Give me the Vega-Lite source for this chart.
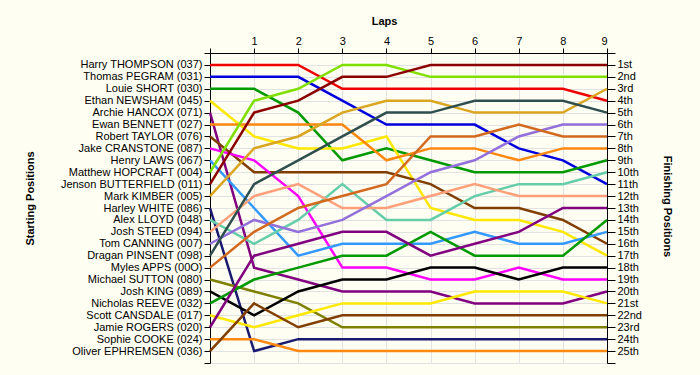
{
  "$schema": "https://vega.github.io/schema/vega-lite/v6.json",
  "width": 397,
  "height": 310,
  "autosize": "none",
  "padding": {"left": 210, "top": 53, "right": 93, "bottom": 12},
  "background": "#FFFEF2",
  "view": {"stroke": null},
  "config": {
    "font": "Liberation Sans",
    "axis": {
      "domainColor": "#000000",
      "tickColor": "#000000",
      "labelColor": "#000000",
      "titleColor": "#000000",
      "labelFontSize": 11,
      "titleFontSize": 11,
      "titleFontWeight": "bold",
      "labelFont": "Liberation Sans",
      "titleFont": "Liberation Sans",
      "gridColor": "#E2E2E2",
      "gridWidth": 1
    }
  },
  "datasets": {
    "race": [
      {"rider": "Harry THOMPSON (037)", "lap": 0, "pos": 1}, {"rider": "Harry THOMPSON (037)", "lap": 1, "pos": 1}, {"rider": "Harry THOMPSON (037)", "lap": 2, "pos": 1}, {"rider": "Harry THOMPSON (037)", "lap": 3, "pos": 3}, {"rider": "Harry THOMPSON (037)", "lap": 4, "pos": 3}, {"rider": "Harry THOMPSON (037)", "lap": 5, "pos": 3}, {"rider": "Harry THOMPSON (037)", "lap": 6, "pos": 3}, {"rider": "Harry THOMPSON (037)", "lap": 7, "pos": 3}, {"rider": "Harry THOMPSON (037)", "lap": 8, "pos": 3}, {"rider": "Harry THOMPSON (037)", "lap": 9, "pos": 4},
      {"rider": "Thomas PEGRAM (031)", "lap": 0, "pos": 2}, {"rider": "Thomas PEGRAM (031)", "lap": 1, "pos": 2}, {"rider": "Thomas PEGRAM (031)", "lap": 2, "pos": 2}, {"rider": "Thomas PEGRAM (031)", "lap": 3, "pos": 4}, {"rider": "Thomas PEGRAM (031)", "lap": 4, "pos": 6}, {"rider": "Thomas PEGRAM (031)", "lap": 5, "pos": 6}, {"rider": "Thomas PEGRAM (031)", "lap": 6, "pos": 6}, {"rider": "Thomas PEGRAM (031)", "lap": 7, "pos": 8}, {"rider": "Thomas PEGRAM (031)", "lap": 8, "pos": 9}, {"rider": "Thomas PEGRAM (031)", "lap": 9, "pos": 11},
      {"rider": "Louie SHORT (030)", "lap": 0, "pos": 3}, {"rider": "Louie SHORT (030)", "lap": 1, "pos": 3}, {"rider": "Louie SHORT (030)", "lap": 2, "pos": 5}, {"rider": "Louie SHORT (030)", "lap": 3, "pos": 9}, {"rider": "Louie SHORT (030)", "lap": 4, "pos": 8}, {"rider": "Louie SHORT (030)", "lap": 5, "pos": 9}, {"rider": "Louie SHORT (030)", "lap": 6, "pos": 10}, {"rider": "Louie SHORT (030)", "lap": 7, "pos": 10}, {"rider": "Louie SHORT (030)", "lap": 8, "pos": 10}, {"rider": "Louie SHORT (030)", "lap": 9, "pos": 9},
      {"rider": "Ethan NEWSHAM (045)", "lap": 0, "pos": 4}, {"rider": "Ethan NEWSHAM (045)", "lap": 1, "pos": 7}, {"rider": "Ethan NEWSHAM (045)", "lap": 2, "pos": 8}, {"rider": "Ethan NEWSHAM (045)", "lap": 3, "pos": 8}, {"rider": "Ethan NEWSHAM (045)", "lap": 4, "pos": 7}, {"rider": "Ethan NEWSHAM (045)", "lap": 5, "pos": 13}, {"rider": "Ethan NEWSHAM (045)", "lap": 6, "pos": 14}, {"rider": "Ethan NEWSHAM (045)", "lap": 7, "pos": 14}, {"rider": "Ethan NEWSHAM (045)", "lap": 8, "pos": 15}, {"rider": "Ethan NEWSHAM (045)", "lap": 9, "pos": 17},
      {"rider": "Archie HANCOX (071)", "lap": 0, "pos": 5}, {"rider": "Archie HANCOX (071)", "lap": 1, "pos": 18}, {"rider": "Archie HANCOX (071)", "lap": 2, "pos": 19}, {"rider": "Archie HANCOX (071)", "lap": 3, "pos": 20}, {"rider": "Archie HANCOX (071)", "lap": 4, "pos": 20}, {"rider": "Archie HANCOX (071)", "lap": 5, "pos": 20}, {"rider": "Archie HANCOX (071)", "lap": 6, "pos": 21}, {"rider": "Archie HANCOX (071)", "lap": 7, "pos": 21}, {"rider": "Archie HANCOX (071)", "lap": 8, "pos": 21}, {"rider": "Archie HANCOX (071)", "lap": 9, "pos": 20},
      {"rider": "Ewan BENNETT (027)", "lap": 0, "pos": 6}, {"rider": "Ewan BENNETT (027)", "lap": 1, "pos": 6}, {"rider": "Ewan BENNETT (027)", "lap": 2, "pos": 6}, {"rider": "Ewan BENNETT (027)", "lap": 3, "pos": 6}, {"rider": "Ewan BENNETT (027)", "lap": 4, "pos": 9}, {"rider": "Ewan BENNETT (027)", "lap": 5, "pos": 8}, {"rider": "Ewan BENNETT (027)", "lap": 6, "pos": 8}, {"rider": "Ewan BENNETT (027)", "lap": 7, "pos": 9}, {"rider": "Ewan BENNETT (027)", "lap": 8, "pos": 8}, {"rider": "Ewan BENNETT (027)", "lap": 9, "pos": 8},
      {"rider": "Robert TAYLOR (076)", "lap": 0, "pos": 7}, {"rider": "Robert TAYLOR (076)", "lap": 1, "pos": 10}, {"rider": "Robert TAYLOR (076)", "lap": 2, "pos": 10}, {"rider": "Robert TAYLOR (076)", "lap": 3, "pos": 10}, {"rider": "Robert TAYLOR (076)", "lap": 4, "pos": 10}, {"rider": "Robert TAYLOR (076)", "lap": 5, "pos": 11}, {"rider": "Robert TAYLOR (076)", "lap": 6, "pos": 13}, {"rider": "Robert TAYLOR (076)", "lap": 7, "pos": 13}, {"rider": "Robert TAYLOR (076)", "lap": 8, "pos": 14}, {"rider": "Robert TAYLOR (076)", "lap": 9, "pos": 16},
      {"rider": "Jake CRANSTONE (087)", "lap": 0, "pos": 8}, {"rider": "Jake CRANSTONE (087)", "lap": 1, "pos": 9}, {"rider": "Jake CRANSTONE (087)", "lap": 2, "pos": 12}, {"rider": "Jake CRANSTONE (087)", "lap": 3, "pos": 18}, {"rider": "Jake CRANSTONE (087)", "lap": 4, "pos": 18}, {"rider": "Jake CRANSTONE (087)", "lap": 5, "pos": 19}, {"rider": "Jake CRANSTONE (087)", "lap": 6, "pos": 19}, {"rider": "Jake CRANSTONE (087)", "lap": 7, "pos": 18}, {"rider": "Jake CRANSTONE (087)", "lap": 8, "pos": 19}, {"rider": "Jake CRANSTONE (087)", "lap": 9, "pos": 19},
      {"rider": "Henry LAWS (067)", "lap": 0, "pos": 9}, {"rider": "Henry LAWS (067)", "lap": 1, "pos": 13}, {"rider": "Henry LAWS (067)", "lap": 2, "pos": 17}, {"rider": "Henry LAWS (067)", "lap": 3, "pos": 16}, {"rider": "Henry LAWS (067)", "lap": 4, "pos": 16}, {"rider": "Henry LAWS (067)", "lap": 5, "pos": 16}, {"rider": "Henry LAWS (067)", "lap": 6, "pos": 15}, {"rider": "Henry LAWS (067)", "lap": 7, "pos": 16}, {"rider": "Henry LAWS (067)", "lap": 8, "pos": 16}, {"rider": "Henry LAWS (067)", "lap": 9, "pos": 15},
      {"rider": "Matthew HOPCRAFT (004)", "lap": 0, "pos": 10}, {"rider": "Matthew HOPCRAFT (004)", "lap": 1, "pos": 4}, {"rider": "Matthew HOPCRAFT (004)", "lap": 2, "pos": 3}, {"rider": "Matthew HOPCRAFT (004)", "lap": 3, "pos": 1}, {"rider": "Matthew HOPCRAFT (004)", "lap": 4, "pos": 1}, {"rider": "Matthew HOPCRAFT (004)", "lap": 5, "pos": 2}, {"rider": "Matthew HOPCRAFT (004)", "lap": 6, "pos": 2}, {"rider": "Matthew HOPCRAFT (004)", "lap": 7, "pos": 2}, {"rider": "Matthew HOPCRAFT (004)", "lap": 8, "pos": 2}, {"rider": "Matthew HOPCRAFT (004)", "lap": 9, "pos": 2},
      {"rider": "Jenson BUTTERFIELD (011)", "lap": 0, "pos": 11}, {"rider": "Jenson BUTTERFIELD (011)", "lap": 1, "pos": 5}, {"rider": "Jenson BUTTERFIELD (011)", "lap": 2, "pos": 4}, {"rider": "Jenson BUTTERFIELD (011)", "lap": 3, "pos": 2}, {"rider": "Jenson BUTTERFIELD (011)", "lap": 4, "pos": 2}, {"rider": "Jenson BUTTERFIELD (011)", "lap": 5, "pos": 1}, {"rider": "Jenson BUTTERFIELD (011)", "lap": 6, "pos": 1}, {"rider": "Jenson BUTTERFIELD (011)", "lap": 7, "pos": 1}, {"rider": "Jenson BUTTERFIELD (011)", "lap": 8, "pos": 1}, {"rider": "Jenson BUTTERFIELD (011)", "lap": 9, "pos": 1},
      {"rider": "Mark KIMBER (005)", "lap": 0, "pos": 12}, {"rider": "Mark KIMBER (005)", "lap": 1, "pos": 8}, {"rider": "Mark KIMBER (005)", "lap": 2, "pos": 7}, {"rider": "Mark KIMBER (005)", "lap": 3, "pos": 5}, {"rider": "Mark KIMBER (005)", "lap": 4, "pos": 4}, {"rider": "Mark KIMBER (005)", "lap": 5, "pos": 4}, {"rider": "Mark KIMBER (005)", "lap": 6, "pos": 5}, {"rider": "Mark KIMBER (005)", "lap": 7, "pos": 5}, {"rider": "Mark KIMBER (005)", "lap": 8, "pos": 5}, {"rider": "Mark KIMBER (005)", "lap": 9, "pos": 3},
      {"rider": "Harley WHITE (086)", "lap": 0, "pos": 13}, {"rider": "Harley WHITE (086)", "lap": 1, "pos": 25}, {"rider": "Harley WHITE (086)", "lap": 2, "pos": 24}, {"rider": "Harley WHITE (086)", "lap": 3, "pos": 24}, {"rider": "Harley WHITE (086)", "lap": 4, "pos": 24}, {"rider": "Harley WHITE (086)", "lap": 5, "pos": 24}, {"rider": "Harley WHITE (086)", "lap": 6, "pos": 24}, {"rider": "Harley WHITE (086)", "lap": 7, "pos": 24}, {"rider": "Harley WHITE (086)", "lap": 8, "pos": 24}, {"rider": "Harley WHITE (086)", "lap": 9, "pos": 24},
      {"rider": "Alex LLOYD (048)", "lap": 0, "pos": 14}, {"rider": "Alex LLOYD (048)", "lap": 1, "pos": 16}, {"rider": "Alex LLOYD (048)", "lap": 2, "pos": 14}, {"rider": "Alex LLOYD (048)", "lap": 3, "pos": 11}, {"rider": "Alex LLOYD (048)", "lap": 4, "pos": 14}, {"rider": "Alex LLOYD (048)", "lap": 5, "pos": 14}, {"rider": "Alex LLOYD (048)", "lap": 6, "pos": 12}, {"rider": "Alex LLOYD (048)", "lap": 7, "pos": 11}, {"rider": "Alex LLOYD (048)", "lap": 8, "pos": 11}, {"rider": "Alex LLOYD (048)", "lap": 9, "pos": 10},
      {"rider": "Josh STEED (094)", "lap": 0, "pos": 15}, {"rider": "Josh STEED (094)", "lap": 1, "pos": 12}, {"rider": "Josh STEED (094)", "lap": 2, "pos": 11}, {"rider": "Josh STEED (094)", "lap": 3, "pos": 13}, {"rider": "Josh STEED (094)", "lap": 4, "pos": 13}, {"rider": "Josh STEED (094)", "lap": 5, "pos": 12}, {"rider": "Josh STEED (094)", "lap": 6, "pos": 11}, {"rider": "Josh STEED (094)", "lap": 7, "pos": 12}, {"rider": "Josh STEED (094)", "lap": 8, "pos": 12}, {"rider": "Josh STEED (094)", "lap": 9, "pos": 12},
      {"rider": "Tom CANNING (007)", "lap": 0, "pos": 16}, {"rider": "Tom CANNING (007)", "lap": 1, "pos": 14}, {"rider": "Tom CANNING (007)", "lap": 2, "pos": 15}, {"rider": "Tom CANNING (007)", "lap": 3, "pos": 14}, {"rider": "Tom CANNING (007)", "lap": 4, "pos": 12}, {"rider": "Tom CANNING (007)", "lap": 5, "pos": 10}, {"rider": "Tom CANNING (007)", "lap": 6, "pos": 9}, {"rider": "Tom CANNING (007)", "lap": 7, "pos": 7}, {"rider": "Tom CANNING (007)", "lap": 8, "pos": 6}, {"rider": "Tom CANNING (007)", "lap": 9, "pos": 6},
      {"rider": "Dragan PINSENT (098)", "lap": 0, "pos": 17}, {"rider": "Dragan PINSENT (098)", "lap": 1, "pos": 11}, {"rider": "Dragan PINSENT (098)", "lap": 2, "pos": 9}, {"rider": "Dragan PINSENT (098)", "lap": 3, "pos": 7}, {"rider": "Dragan PINSENT (098)", "lap": 4, "pos": 5}, {"rider": "Dragan PINSENT (098)", "lap": 5, "pos": 5}, {"rider": "Dragan PINSENT (098)", "lap": 6, "pos": 4}, {"rider": "Dragan PINSENT (098)", "lap": 7, "pos": 4}, {"rider": "Dragan PINSENT (098)", "lap": 8, "pos": 4}, {"rider": "Dragan PINSENT (098)", "lap": 9, "pos": 5},
      {"rider": "Myles APPS (00O)", "lap": 0, "pos": 18}, {"rider": "Myles APPS (00O)", "lap": 1, "pos": 15}, {"rider": "Myles APPS (00O)", "lap": 2, "pos": 13}, {"rider": "Myles APPS (00O)", "lap": 3, "pos": 12}, {"rider": "Myles APPS (00O)", "lap": 4, "pos": 11}, {"rider": "Myles APPS (00O)", "lap": 5, "pos": 7}, {"rider": "Myles APPS (00O)", "lap": 6, "pos": 7}, {"rider": "Myles APPS (00O)", "lap": 7, "pos": 6}, {"rider": "Myles APPS (00O)", "lap": 8, "pos": 7}, {"rider": "Myles APPS (00O)", "lap": 9, "pos": 7},
      {"rider": "Michael SUTTON (080)", "lap": 0, "pos": 19}, {"rider": "Michael SUTTON (080)", "lap": 1, "pos": 20}, {"rider": "Michael SUTTON (080)", "lap": 2, "pos": 21}, {"rider": "Michael SUTTON (080)", "lap": 3, "pos": 23}, {"rider": "Michael SUTTON (080)", "lap": 4, "pos": 23}, {"rider": "Michael SUTTON (080)", "lap": 5, "pos": 23}, {"rider": "Michael SUTTON (080)", "lap": 6, "pos": 23}, {"rider": "Michael SUTTON (080)", "lap": 7, "pos": 23}, {"rider": "Michael SUTTON (080)", "lap": 8, "pos": 23}, {"rider": "Michael SUTTON (080)", "lap": 9, "pos": 23},
      {"rider": "Josh KING (089)", "lap": 0, "pos": 20}, {"rider": "Josh KING (089)", "lap": 1, "pos": 22}, {"rider": "Josh KING (089)", "lap": 2, "pos": 20}, {"rider": "Josh KING (089)", "lap": 3, "pos": 19}, {"rider": "Josh KING (089)", "lap": 4, "pos": 19}, {"rider": "Josh KING (089)", "lap": 5, "pos": 18}, {"rider": "Josh KING (089)", "lap": 6, "pos": 18}, {"rider": "Josh KING (089)", "lap": 7, "pos": 19}, {"rider": "Josh KING (089)", "lap": 8, "pos": 18}, {"rider": "Josh KING (089)", "lap": 9, "pos": 18},
      {"rider": "Nicholas REEVE (032)", "lap": 0, "pos": 21}, {"rider": "Nicholas REEVE (032)", "lap": 1, "pos": 19}, {"rider": "Nicholas REEVE (032)", "lap": 2, "pos": 18}, {"rider": "Nicholas REEVE (032)", "lap": 3, "pos": 17}, {"rider": "Nicholas REEVE (032)", "lap": 4, "pos": 17}, {"rider": "Nicholas REEVE (032)", "lap": 5, "pos": 15}, {"rider": "Nicholas REEVE (032)", "lap": 6, "pos": 17}, {"rider": "Nicholas REEVE (032)", "lap": 7, "pos": 17}, {"rider": "Nicholas REEVE (032)", "lap": 8, "pos": 17}, {"rider": "Nicholas REEVE (032)", "lap": 9, "pos": 14},
      {"rider": "Scott CANSDALE (017)", "lap": 0, "pos": 22}, {"rider": "Scott CANSDALE (017)", "lap": 1, "pos": 23}, {"rider": "Scott CANSDALE (017)", "lap": 2, "pos": 22}, {"rider": "Scott CANSDALE (017)", "lap": 3, "pos": 21}, {"rider": "Scott CANSDALE (017)", "lap": 4, "pos": 21}, {"rider": "Scott CANSDALE (017)", "lap": 5, "pos": 21}, {"rider": "Scott CANSDALE (017)", "lap": 6, "pos": 20}, {"rider": "Scott CANSDALE (017)", "lap": 7, "pos": 20}, {"rider": "Scott CANSDALE (017)", "lap": 8, "pos": 20}, {"rider": "Scott CANSDALE (017)", "lap": 9, "pos": 21},
      {"rider": "Jamie ROGERS (020)", "lap": 0, "pos": 23}, {"rider": "Jamie ROGERS (020)", "lap": 1, "pos": 17}, {"rider": "Jamie ROGERS (020)", "lap": 2, "pos": 16}, {"rider": "Jamie ROGERS (020)", "lap": 3, "pos": 15}, {"rider": "Jamie ROGERS (020)", "lap": 4, "pos": 15}, {"rider": "Jamie ROGERS (020)", "lap": 5, "pos": 17}, {"rider": "Jamie ROGERS (020)", "lap": 6, "pos": 16}, {"rider": "Jamie ROGERS (020)", "lap": 7, "pos": 15}, {"rider": "Jamie ROGERS (020)", "lap": 8, "pos": 13}, {"rider": "Jamie ROGERS (020)", "lap": 9, "pos": 13},
      {"rider": "Sophie COOKE (024)", "lap": 0, "pos": 24}, {"rider": "Sophie COOKE (024)", "lap": 1, "pos": 24}, {"rider": "Sophie COOKE (024)", "lap": 2, "pos": 25}, {"rider": "Sophie COOKE (024)", "lap": 3, "pos": 25}, {"rider": "Sophie COOKE (024)", "lap": 4, "pos": 25}, {"rider": "Sophie COOKE (024)", "lap": 5, "pos": 25}, {"rider": "Sophie COOKE (024)", "lap": 6, "pos": 25}, {"rider": "Sophie COOKE (024)", "lap": 7, "pos": 25}, {"rider": "Sophie COOKE (024)", "lap": 8, "pos": 25}, {"rider": "Sophie COOKE (024)", "lap": 9, "pos": 25},
      {"rider": "Oliver EPHREMSEN (036)", "lap": 0, "pos": 25}, {"rider": "Oliver EPHREMSEN (036)", "lap": 1, "pos": 21}, {"rider": "Oliver EPHREMSEN (036)", "lap": 2, "pos": 23}, {"rider": "Oliver EPHREMSEN (036)", "lap": 3, "pos": 22}, {"rider": "Oliver EPHREMSEN (036)", "lap": 4, "pos": 22}, {"rider": "Oliver EPHREMSEN (036)", "lap": 5, "pos": 22}, {"rider": "Oliver EPHREMSEN (036)", "lap": 6, "pos": 22}, {"rider": "Oliver EPHREMSEN (036)", "lap": 7, "pos": 22}, {"rider": "Oliver EPHREMSEN (036)", "lap": 8, "pos": 22}, {"rider": "Oliver EPHREMSEN (036)", "lap": 9, "pos": 22}
    ]
  },
  "data": {"name": "race"},
  "encoding": {
    "x": {
      "field": "lap",
      "type": "quantitative",
      "scale": {"domain": [0, 9], "nice": false, "zero": false},
      "axis": {
        "orient": "top",
        "values": [0, 1, 2, 3, 4, 5, 6, 7, 8, 9],
        "labelExpr": "datum.value == 0 ? '' : datum.label",
        "grid": true,
        "tickSize": 5,
        "labelPadding": 2,
        "labelFontSize": 11,
        "title": "Laps",
        "titleX": 174,
        "titleY": -29,
        "titleAlign": "center",
        "titleBaseline": "alphabetic",
        "titleAngle": 0
      }
    },
    "color": {
      "field": "rider",
      "type": "nominal",
      "legend": null,
      "scale": {
        "domain": ["Harry THOMPSON (037)", "Thomas PEGRAM (031)", "Louie SHORT (030)", "Ethan NEWSHAM (045)", "Archie HANCOX (071)", "Ewan BENNETT (027)", "Robert TAYLOR (076)", "Jake CRANSTONE (087)", "Henry LAWS (067)", "Matthew HOPCRAFT (004)", "Jenson BUTTERFIELD (011)", "Mark KIMBER (005)", "Harley WHITE (086)", "Alex LLOYD (048)", "Josh STEED (094)", "Tom CANNING (007)", "Dragan PINSENT (098)", "Myles APPS (00O)", "Michael SUTTON (080)", "Josh KING (089)", "Nicholas REEVE (032)", "Scott CANSDALE (017)", "Jamie ROGERS (020)", "Sophie COOKE (024)", "Oliver EPHREMSEN (036)"],
        "range": ["#EE0000", "#0000DD", "#009900", "#FFE800", "#800080", "#FF8811", "#803F00", "#FF00FF", "#3399FF", "#7FE000", "#8B0000", "#DAA520", "#191970", "#66CDAA", "#FFA07A", "#9370DB", "#2F4F4F", "#D2691E", "#808000", "#000000", "#009900", "#FFE800", "#800080", "#FF8811", "#803F00"]
      }
    }
  },
  "layer": [
    {
      "mark": {"type": "line", "strokeWidth": 2.5},
      "encoding": {
        "y": {
          "field": "pos",
          "type": "quantitative",
          "scale": {"domain": [0, 26], "reverse": true, "nice": false, "zero": false},
          "axis": {
            "orient": "left",
            "values": [0, 1, 2, 3, 4, 5, 6, 7, 8, 9, 10, 11, 12, 13, 14, 15, 16, 17, 18, 19, 20, 21, 22, 23, 24, 25, 26],
            "labelExpr": "['', 'Harry THOMPSON (037)', 'Thomas PEGRAM (031)', 'Louie SHORT (030)', 'Ethan NEWSHAM (045)', 'Archie HANCOX (071)', 'Ewan BENNETT (027)', 'Robert TAYLOR (076)', 'Jake CRANSTONE (087)', 'Henry LAWS (067)', 'Matthew HOPCRAFT (004)', 'Jenson BUTTERFIELD (011)', 'Mark KIMBER (005)', 'Harley WHITE (086)', 'Alex LLOYD (048)', 'Josh STEED (094)', 'Tom CANNING (007)', 'Dragan PINSENT (098)', 'Myles APPS (00O)', 'Michael SUTTON (080)', 'Josh KING (089)', 'Nicholas REEVE (032)', 'Scott CANSDALE (017)', 'Jamie ROGERS (020)', 'Sophie COOKE (024)', 'Oliver EPHREMSEN (036)', ''][datum.value]",
            "grid": true,
            "tickSize": 6,
            "labelPadding": 2,
            "labelBaseline": "middle",
            "labelFontSize": 11,
            "title": "Starting Positions",
            "titleX": -180,
            "titleY": 145,
            "titleAngle": -90,
            "titleAlign": "center",
            "titleBaseline": "middle"
          }
        }
      }
    },
    {
      "mark": {"type": "line", "strokeWidth": 2.5, "opacity": 0},
      "encoding": {
        "y": {
          "field": "pos",
          "type": "quantitative",
          "scale": {"domain": [0, 26], "reverse": true, "nice": false, "zero": false},
          "axis": {
            "orient": "right",
            "values": [0, 1, 2, 3, 4, 5, 6, 7, 8, 9, 10, 11, 12, 13, 14, 15, 16, 17, 18, 19, 20, 21, 22, 23, 24, 25, 26],
            "labelExpr": "(datum.value < 1 || datum.value > 25) ? '' : datum.value + ((datum.value % 10 == 1 && datum.value != 11) ? 'st' : (datum.value % 10 == 2 && datum.value != 12) ? 'nd' : (datum.value % 10 == 3 && datum.value != 13) ? 'rd' : 'th')",
            "grid": false,
            "tickSize": 8,
            "labelPadding": 2,
            "labelBaseline": "middle",
            "labelFontSize": 11,
            "title": "Finishing Positions",
            "titleX": 59,
            "titleY": 153,
            "titleAngle": 90,
            "titleAlign": "center",
            "titleBaseline": "middle"
          }
        }
      }
    }
  ],
  "resolve": {"axis": {"y": "independent"}}
}
